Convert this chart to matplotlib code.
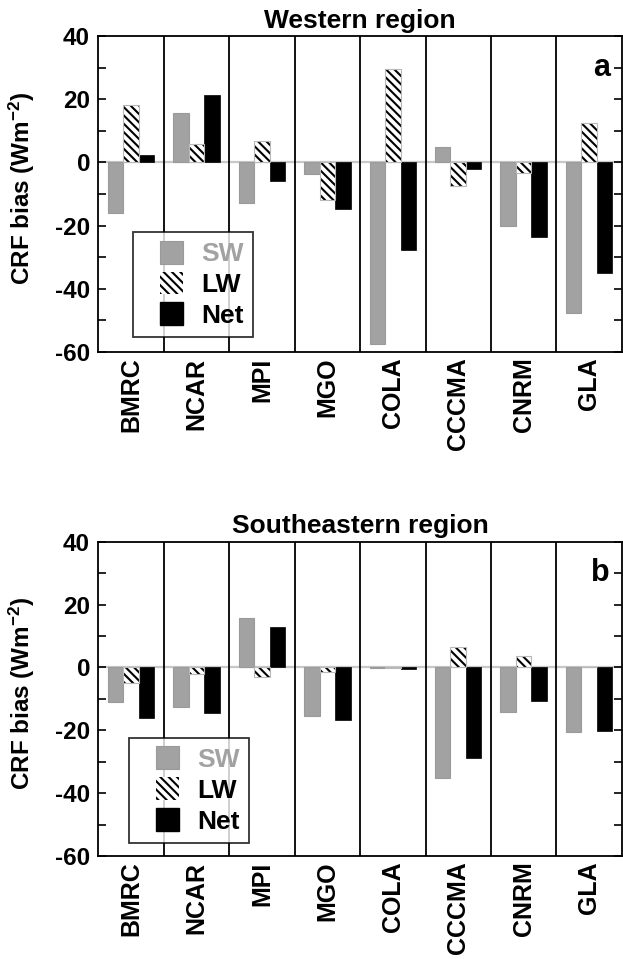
import matplotlib
matplotlib.use("Agg")
import matplotlib.pyplot as plt
import numpy as np
from matplotlib.patches import Patch, Rectangle
from matplotlib.legend_handler import HandlerPatch

plt.rcParams['font.family'] = ['Liberation Sans', 'DejaVu Sans']
plt.rcParams['font.weight'] = 'bold'
plt.rcParams['axes.unicode_minus'] = False
plt.rcParams['hatch.linewidth'] = 1.5
plt.rcParams['mathtext.fontset'] = 'custom'
plt.rcParams['mathtext.rm'] = 'Liberation Sans:bold'
plt.rcParams['mathtext.bf'] = 'Liberation Sans:bold'
plt.rcParams['mathtext.default'] = 'bf'

models = ["BMRC", "NCAR", "MPI", "MGO", "COLA", "CCCMA", "CNRM", "GLA"]

west_sw = [-16.0, 15.5, -12.9, -3.7, -57.5, 5.0, -20.1, -47.8]
west_lw = [18.2, 5.7, 6.9, -11.9, 29.6, -7.5, -3.4, 12.4]
west_net = [2.4, 21.3, -6.0, -14.8, -27.7, -2.1, -23.5, -35.1]

se_sw = [-11.1, -12.7, 15.6, -15.4, -0.3, -35.3, -14.3, -20.6]
se_lw = [-4.9, -2.1, -2.9, -1.6, -0.2, 6.6, 3.7, 0.3]
se_net = [-16.0, -14.4, 12.8, -16.7, -0.6, -28.9, -10.7, -20.1]

yticks = [-60, -40, -20, 0, 20, 40]
ytick_labels = ["-60", "-40", "-20", "0", "20", "40"]

SW_COLOR = "#a2a2a2"
SW_EDGE = "#9a9a9a"
HATCH = "\\\\\\\\"

fig = plt.figure(figsize=(6.23, 9.59), dpi=100)
ax_a = fig.add_axes([0.158, 0.633, 0.840, 0.3295])
ax_b = fig.add_axes([0.158, 0.1074, 0.840, 0.3277])


def square_patch(legend, orig_handle, xdescent, ydescent, width, height, fontsize):
    s = 0.87 * fontsize
    return Rectangle((-xdescent + width - s, -ydescent + (height - s) / 2.0), s, s)


def draw_panel(ax, sw, lw, net, title, letter, leg_anchor):
    x = np.arange(len(models))
    w = 0.237
    ax.axhline(0, color="#c8c8c8", lw=1.6, zorder=1)
    ax.bar(x - w, sw, w, color=SW_COLOR, edgecolor=SW_EDGE, linewidth=0.8, zorder=2)
    ax.bar(x, lw, w, color="white", edgecolor="black", linewidth=0, hatch=HATCH, zorder=2)
    ax.bar(x, lw, w, color="none", edgecolor="#b8b8b8", linewidth=0.8, zorder=3)
    ax.bar(x + w, net, w, color="black", edgecolor="black", linewidth=0.5, zorder=2)
    for b in np.arange(0.5, len(models) - 0.5, 1.0):
        ax.axvline(b, color="black", lw=1.3, zorder=4)
    ax.set_xlim(-0.5, len(models) - 0.5)
    ax.set_ylim(-60, 40)
    ax.set_yticks(yticks)
    ax.set_yticklabels(ytick_labels, fontsize=17.5, fontweight="bold")
    ax.set_yticks(np.arange(-50, 40, 20), minor=True)
    ax.tick_params(axis="y", which="both", direction="in", length=6, width=1.2,
                   left=True, right=True, pad=6)
    ax.set_xticks(x)
    ax.set_xticklabels(models, rotation=90, fontsize=18, fontweight="bold")
    ax.tick_params(axis="x", length=0, pad=4)
    for s in ax.spines.values():
        s.set_linewidth(1.3)
    ax.set_ylabel("CRF bias (Wm$^{-2}$)", fontsize=17.5, fontweight="bold")
    ax.yaxis.set_label_coords(-0.117, 0.517)
    ax.set_title(title, fontsize=19, fontweight="bold", pad=6)
    ax.text(0.977, 0.899, letter, transform=ax.transAxes, ha="right", va="center",
            fontsize=22, fontweight="bold")
    handles = [
        Patch(facecolor=SW_COLOR, edgecolor=SW_EDGE, linewidth=0.8, label="SW"),
        Patch(facecolor="white", edgecolor="black", linewidth=0, hatch=HATCH, label="LW"),
        Patch(facecolor="black", edgecolor="black", label="Net"),
    ]
    leg = ax.legend(handles=handles, loc="lower left", bbox_to_anchor=leg_anchor,
                    borderaxespad=0, fancybox=False, frameon=True,
                    prop={"size": 19, "weight": "bold"},
                    handler_map={Patch: HandlerPatch(patch_func=square_patch)},
                    handlelength=1.53, handleheight=0.87, handletextpad=0.71,
                    labelspacing=0.23, borderpad=0.35)
    leg.get_frame().set_edgecolor("black")
    leg.get_frame().set_linewidth(1.3)
    leg.set_zorder(6)
    leg.get_texts()[0].set_color(SW_COLOR)


draw_panel(ax_a, west_sw, west_lw, west_net, "Western region", "a", (0.0665, 0.0465))
draw_panel(ax_b, se_sw, se_lw, se_net, "Southeastern region", "b", (0.0583, 0.0414))

fig.savefig("out.png", dpi=100)
